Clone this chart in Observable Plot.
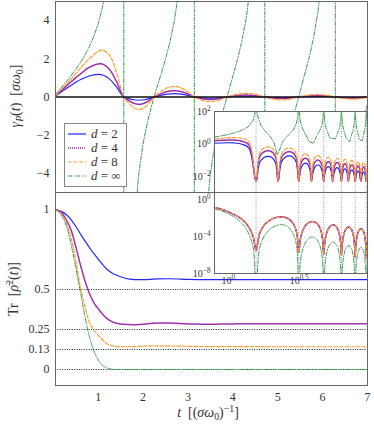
<!DOCTYPE html>
<html><head><meta charset="utf-8">
<script src="https://cdn.jsdelivr.net/npm/d3@7"></script>
<script src="https://cdn.jsdelivr.net/npm/@observablehq/plot@0.6"></script>
<style>
body{margin:0;background:#fff}
#chart{position:relative;width:374px;height:426px;font-family:"Liberation Serif",serif;color:#333;overflow:hidden}
#chart svg{position:absolute;font-family:"Liberation Serif",serif}
.lbl{position:absolute;white-space:nowrap;font-size:14px;color:#333;line-height:1;font-family:"Liberation Serif",serif}
.lbl sub,.lbl sup{font-size:0.7em;line-height:0}
.lbl sub{vertical-align:-0.3em}
.lbl sup{vertical-align:0.55em}
#legend{position:absolute;left:64px;top:123px;width:63px;height:64px;border:1px solid #888;background:#fff;box-sizing:border-box;padding-top:3px;font-family:"Liberation Serif",serif}
#legend .row{display:flex;align-items:center;height:14px;font-size:13px}
#legend svg{position:static;margin:0 5px 0 3px}
</style></head>
<body><div id="chart"></div>
<script>
// ---------- data ----------
// gamma_P(t) for finite d (shared time grid)
const gammaT = [0.05,0.2,0.4,0.6,0.8,1.0,1.1,1.25,1.4,1.571,
 1.666,1.787,1.909,2.030,2.152,2.247,
 2.372,2.533,2.695,2.856,3.017,3.142,
 3.243,3.373,3.503,3.632,3.762,3.863,
 3.982,4.135,4.288,4.440,4.593,4.712,
 4.815,4.948,5.082,5.215,5.348,5.451,
 5.567,5.717,5.867,6.017,6.167,6.283,
 6.388,6.523,6.658,6.793,6.928,7.033,
 7.148,7.296,7.444,7.591,7.739,7.854,
 7.960,8.096,8.232,8.368,8.504,8.610,
 8.724,8.871,9.018,9.164,9.311,9.425,
 9.532,9.70];
const gamma2 = [0.05,0.3,0.62,0.9,1.1,1.18,1.15,0.95,0.55,0,
 -0.071,-0.145,-0.17,-0.145,-0.071,0,
 0.076,0.153,0.18,0.153,0.076,0,
 -0.027,-0.055,-0.065,-0.055,-0.027,0,
 0.021,0.043,0.05,0.043,0.021,0,
 -0.017,-0.034,-0.04,-0.034,-0.017,0,
 0.014,0.029,0.034,0.029,0.014,0,
 -0.012,-0.025,-0.029,-0.025,-0.012,0,
 0.011,0.021,0.025,0.021,0.011,0,
 -0.009,-0.018,-0.021,-0.018,-0.009,0,
 0.008,0.016,0.019,0.016,0.008,0,
 -0.007,-0.014];
const gamma4 = [0.06,0.38,0.8,1.2,1.55,1.73,1.72,1.45,0.85,0,
 -0.16,-0.323,-0.38,-0.323,-0.16,0,
 0.139,0.281,0.33,0.281,0.139,0,
 -0.055,-0.11,-0.13,-0.11,-0.055,0,
 0.042,0.085,0.1,0.085,0.042,0,
 -0.034,-0.068,-0.08,-0.068,-0.034,0,
 0.029,0.06,0.07,0.06,0.029,0,
 -0.025,-0.051,-0.06,-0.051,-0.025,0,
 0.021,0.043,0.05,0.043,0.021,0,
 -0.018,-0.037,-0.043,-0.037,-0.018,0,
 0.016,0.032,0.038,0.032,0.016,0,
 -0.014,-0.029];
const gamma8 = [0.07,0.45,0.95,1.5,2.0,2.38,2.45,2.2,1.35,0,
 -0.273,-0.553,-0.65,-0.553,-0.273,0,
 0.231,0.468,0.55,0.468,0.231,0,
 -0.105,-0.21,-0.25,-0.21,-0.105,0,
 0.08,0.16,0.19,0.16,0.08,0,
 -0.063,-0.128,-0.15,-0.128,-0.063,0,
 0.055,0.11,0.13,0.11,0.055,0,
 -0.046,-0.094,-0.11,-0.094,-0.046,0,
 0.04,0.081,0.095,0.081,0.04,0,
 -0.034,-0.068,-0.08,-0.068,-0.034,0,
 0.029,0.06,0.07,0.06,0.029,0,
 -0.027,-0.055];
// gamma_P(t) for d = infinity
const gammaInfT = [0.05,0.2,0.4,0.6,0.7,0.8,0.9,1.0,1.1,1.2,1.3,1.4,1.5,1.55,1.565,
 1.577,1.6,1.7,1.8,1.9,2.0,2.1,2.22,2.3,2.4,2.5,2.6,2.7,2.8,2.9,3.0,3.1,3.137,
 3.147,3.2,3.3,3.4,3.5,3.6,3.7,4.0,4.1,4.2,4.3,4.4,4.5,4.6,4.68,4.705,
 4.72,4.8,4.9,5.0,5.1,5.2,5.7,5.8,5.9,6.0,6.1,6.2,6.26,6.278,
 6.288,6.3,6.4,6.5,6.6,6.7,6.8,7.2,7.3,7.4,7.5,7.6,7.7,7.8,7.849,
 7.859,7.9,8.0,8.2,8.4,8.8,9.0,9.2,9.3,9.4,9.42,
 9.43,9.45,9.6];
const gammaInf = [0.133,0.54,1.115,1.778,2.167,2.617,3.155,3.83,4.73,6.03,8.19,12.68,29.4,97.4,346,
 -321,-67.2,-13.96,-7.0,-4.12,-2.455,-1.298,-0.217,0.418,1.185,1.983,2.89,4.03,5.63,8.31,14.41,48.6,435,
 -370,-33.5,-11.59,-6.46,-4.02,-2.50,-1.42,1.09,1.93,2.91,4.15,6.0,9.27,18.0,62,271,
 -262,-22.2,-9.76,-5.76,-3.69,-2.33,2.06,3.11,4.51,6.61,10.73,24.1,86.3,385,
 -416,-118.7,-16.5,-8.34,-5.14,-3.34,-2.10,1.35,2.27,3.39,4.94,7.45,12.98,37.2,400,
 -400,-43.1,-13.06,-4.58,-1.84,1.56,3.74,8.5,15.9,80.6,416,
 -384,-79.1,-10.7];
// Tr[rho^2(t)]
const purityT  = [0.05,0.2,0.3,0.4,0.5,0.6,0.7,0.8,0.9,1.0,1.1,1.2,1.3,1.4,1.6,1.8,2.0,2.3,2.6,3.0,3.5,4.0,5.0,6.0,7.0];
const purity2  = [1.0,0.985,0.965,0.935,0.895,0.85,0.805,0.765,0.725,0.69,0.655,0.625,0.605,0.59,0.57,0.562,0.561,0.566,0.567,0.563,0.561,0.562,0.562,0.562,0.562];
const purity4  = [1.0,0.975,0.93,0.87,0.77,0.66,0.56,0.48,0.42,0.38,0.345,0.318,0.30,0.29,0.282,0.28,0.283,0.29,0.29,0.285,0.283,0.285,0.286,0.286,0.286];
const purity8  = [1.0,0.965,0.91,0.82,0.68,0.52,0.4,0.3,0.25,0.215,0.185,0.16,0.15,0.145,0.142,0.143,0.146,0.148,0.147,0.145,0.143,0.143,0.142,0.142,0.142];
const purityInf= [1.0,0.955,0.89,0.78,0.64,0.49,0.34,0.21,0.12,0.06,0.025,0.009,0.002,0,0,0,0,0,0,0,0,0,0,0,0];
// lower inset (log10 of the plotted value)
const innerT = [0.8,0.9,1.0,1.1,1.2,1.3,1.4,1.5,1.5708,
 1.665,1.806,2.042,2.356,2.670,2.906,3.047,3.1416,
 3.236,3.377,3.613,3.927,4.241,4.477,4.618,4.7124,
 4.807,4.948,5.184,5.498,5.812,6.048,6.189,6.2832,
 6.377,6.519,6.754,7.069,7.383,7.618,7.760,7.854,
 7.948,8.090,8.325,8.639,8.954,9.189,9.331,9.4248,
 9.519,9.660];
const innerFiniteExp = [-0.82,-1.03,-1.3,-1.6,-1.92,-2.35,-3.0,-4.0,-5.5,
 -3.66,-2.70,-2.07,-1.84,-2.07,-2.70,-3.66,-5.7,
 -4.17,-3.21,-2.58,-2.35,-2.58,-3.21,-4.17,-5.9,
 -4.54,-3.58,-2.95,-2.72,-2.95,-3.58,-4.54,-6.0,
 -4.77,-3.81,-3.18,-2.95,-3.18,-3.81,-4.77,-6.2,
 -4.95,-3.99,-3.36,-3.13,-3.36,-3.99,-4.95,-6.3,
 -5.12,-4.16];
const innerInfExp = [-0.93,-1.2,-1.5,-1.85,-2.3,-2.85,-3.75,-5.2,-10,
 -5.22,-3.88,-3.0,-2.68,-3.0,-3.88,-5.22,-10,
 -6.57,-5.23,-4.35,-4.03,-4.35,-5.23,-6.57,-10,
 -7.12,-5.78,-4.9,-4.58,-4.9,-5.78,-7.12,-10,
 -7.49,-6.15,-5.27,-4.95,-5.27,-6.15,-7.49,-10,
 -7.69,-6.35,-5.47,-5.15,-5.47,-6.35,-7.69,-10,
 -7.84,-6.5];
const poles = [1.5708,3.1416,4.7124,6.2832,7.854,9.4248];
const gammaTicks = [-4,-2,0,2,4];
const purityTicks = [0,0.125,0.25,0.5,1];
const purityTickLabels = ["0","0.13","0.25","0.5","1"];
const purityLevels = [0,0.125,0.25,0.5];
const timeTicks = [1,2,3,4,5,6,7];
const seriesLabels = ["2","4","8","∞"];

// ---------- styles ----------
const S = [
 {color:"#2424ff", dash:null, w:1.2},
 {color:"#9a2aa6", dash:"1,1", w:1.5},
 {color:"#ff9b30", dash:"3.6,2", w:1.2},
 {color:"#3d9a57", dash:"4,1.6,1,1.6", w:1}
];
const FONT = "Liberation Serif, serif";
const frameStroke = "#666";
const baseStyle = {background:"transparent", fontFamily:FONT, fontSize:"12px", color:"#333", overflow:"visible"};
const lineOpt = (s, extra) => Object.assign({stroke:s.color, strokeWidth:s.w, strokeDasharray:s.dash, clip:true}, extra);

const gammaRows = gammaT.map((t,i)=>({t, a:gamma2[i], b:gamma4[i], c:gamma8[i]}));
const infRows = gammaInfT.map((t,i)=>({t, g:gammaInf[i]}));
const purityRows = purityT.map((t,i)=>({t, a:purity2[i], b:purity4[i], c:purity8[i], g:purityInf[i]}));
const innerRows = innerT.map((t,i)=>({t, f:10**innerFiniteExp[i], g:10**innerInfExp[i]}));
const absF = k => d => Math.max(Math.abs(d[k]), 0.005);

const chart = document.getElementById("chart");
function place(svg, left, top, size){
  svg.setAttribute("font-family", FONT);
  svg.setAttribute("font-size", size || 12);
  svg.style.left = left+"px"; svg.style.top = top+"px"; chart.appendChild(svg); return svg;
}
function sup(svg){
  const ns = "http://www.w3.org/2000/svg";
  svg.querySelectorAll("text").forEach(t=>{
    const m = t.textContent.match(/^10\^(.+)$/);
    if(m){ t.textContent = "10"; const ts = document.createElementNS(ns,"tspan"); ts.setAttribute("dy","-0.5em"); ts.setAttribute("font-size","0.72em"); ts.textContent = m[1]; t.appendChild(ts); }
  });
  return svg;
}
const pow10 = d => "10^" + String(Math.round(Math.log10(d))).replace("-","−");

// upper main panel
place(Plot.plot({
  width:374, height:193, marginLeft:55, marginRight:7, marginTop:1, marginBottom:1,
  style: baseStyle,
  x:{domain:[0.05,7], axis:null},
  y:{domain:[-5,5], ticks:gammaTicks, tickSize:0, tickPadding:6, label:null},
  marks:[
    Plot.line(gammaRows, lineOpt(S[0], {x:"t", y:"a", curve:"catmull-rom"})),
    Plot.line(gammaRows, lineOpt(S[1], {x:"t", y:"b", curve:"catmull-rom"})),
    Plot.line(gammaRows, lineOpt(S[2], {x:"t", y:"c", curve:"catmull-rom"})),
    Plot.line(infRows, lineOpt(S[3], {x:"t", y:"g"})),
    Plot.ruleY([0], {stroke:"#111", strokeWidth:1.3}),
    Plot.frame({stroke:frameStroke})
  ]
}), 0, 0);

// lower main panel
place(Plot.plot({
  width:374, height:235, marginLeft:55, marginRight:7, marginTop:1, marginBottom:41,
  style: baseStyle,
  x:{domain:[0.05,7], ticks:timeTicks, tickFormat:d=>String(d), tickSize:0, tickPadding:7, label:null},
  y:{domain:[-0.1,1.106], ticks:purityTicks, tickFormat:d=>purityTickLabels[purityTicks.indexOf(d)], tickSize:0, tickPadding:6, label:null},
  marks:[
    Plot.ruleY(purityLevels, {stroke:"#222", strokeWidth:1, strokeDasharray:"1,1.4"}),
    Plot.line(purityRows, lineOpt(S[0], {x:"t", y:"a", curve:"monotone-x"})),
    Plot.line(purityRows, lineOpt(S[1], {x:"t", y:"b", curve:"monotone-x"})),
    Plot.line(purityRows, lineOpt(S[2], {x:"t", y:"c", curve:"monotone-x"})),
    Plot.line(purityRows, lineOpt(S[3], {x:"t", y:"g", curve:"monotone-x"})),
    Plot.frame({stroke:frameStroke})
  ]
}), 0, 191);

// upper inset: |gamma_P| log-log
place(sup(Plot.plot({
  width:194, height:93, marginLeft:34, marginRight:7, marginTop:11, marginBottom:1,
  style: Object.assign({}, baseStyle, {fontSize:"10px"}),
  x:{type:"log", domain:[0.8,9.6], axis:null},
  y:{type:"log", domain:[1e-3,1e2], ticks:[1e-2,1,1e2], tickFormat:pow10, tickSize:0, tickPadding:4, label:null},
  marks:[
    Plot.frame({fill:"white", stroke:null}),
    Plot.ruleX(poles, {stroke:"#999", strokeWidth:1, strokeDasharray:"1,1.5", clip:true}),
    Plot.line(gammaRows, lineOpt(S[0], {x:"t", y:absF("a"), curve:"catmull-rom"})),
    Plot.line(gammaRows, lineOpt(S[1], {x:"t", y:absF("b"), curve:"catmull-rom"})),
    Plot.line(gammaRows, lineOpt(S[2], {x:"t", y:absF("c"), curve:"catmull-rom"})),
    Plot.line(infRows, lineOpt(S[3], {x:"t", y:d=>Math.abs(d.g)})),
    Plot.frame({stroke:frameStroke})
  ]
})), 180, 100, 10.5);

// lower inset
place(sup(Plot.plot({
  width:194, height:110, marginLeft:34, marginRight:7, marginTop:12, marginBottom:17,
  style: Object.assign({}, baseStyle, {fontSize:"10px"}),
  x:{type:"log", domain:[0.8,9.6], ticks:[1, Math.sqrt(10)], tickFormat:d=>d===1?"10^0":"10^0.5", tickSize:0, tickPadding:3, label:null},
  y:{type:"log", domain:[1e-8,10**0.8], ticks:[1e-8,1e-4,1], tickFormat:pow10, tickSize:0, tickPadding:4, label:null},
  marks:[
    Plot.frame({fill:"white", stroke:null}),
    Plot.ruleX(poles, {stroke:"#999", strokeWidth:1, strokeDasharray:"1,1.5", clip:true}),
    Plot.line(innerRows, lineOpt(S[3], {x:"t", y:"g", curve:"catmull-rom"})),
    Plot.line(innerRows, lineOpt(S[0], {x:"t", y:"f", curve:"catmull-rom"})),
    Plot.line(innerRows, lineOpt(S[1], {x:"t", y:"f", curve:"catmull-rom"})),
    Plot.line(innerRows, lineOpt(S[2], {x:"t", y:"f", curve:"catmull-rom"})),
    Plot.frame({stroke:frameStroke})
  ]
})), 180, 180, 10.5);

// legend
const leg = document.createElement("div"); leg.id = "legend";
seriesLabels.forEach((lab,i)=>{
  const s = S[i];
  leg.insertAdjacentHTML("beforeend",
   `<div class="row"><svg width="18" height="6"><line x1="0" y1="3" x2="18" y2="3" stroke="${s.color}" stroke-width="${s.w}" ${s.dash?`stroke-dasharray="${s.dash}"`:""}/></svg><span><i>d</i> = ${lab}</span></div>`);
});
chart.appendChild(leg);

// axis titles
function label(html, x, y, rot){
  const d = document.createElement("div"); d.className = "lbl"; d.innerHTML = html;
  d.style.left = x+"px"; d.style.top = y+"px";
  d.style.transform = "translate(-50%,-50%)" + (rot ? " rotate(-90deg)" : "");
  chart.appendChild(d);
}
label(`<i>γ<sub>P</sub></i>(<i>t</i>)&nbsp;&nbsp;[<i>σω</i><sub>0</sub>]`, 16, 96, true);
label(`Tr&nbsp;&nbsp;[<i>ρ̄</i><sup>2</sup>(<i>t</i>)]`, 14, 289, true);
label(`<i>t</i>&nbsp;&nbsp;[(<i>σω</i><sub>0</sub>)<sup>−1</sup>]`, 208, 413, false);
</script></body></html>
